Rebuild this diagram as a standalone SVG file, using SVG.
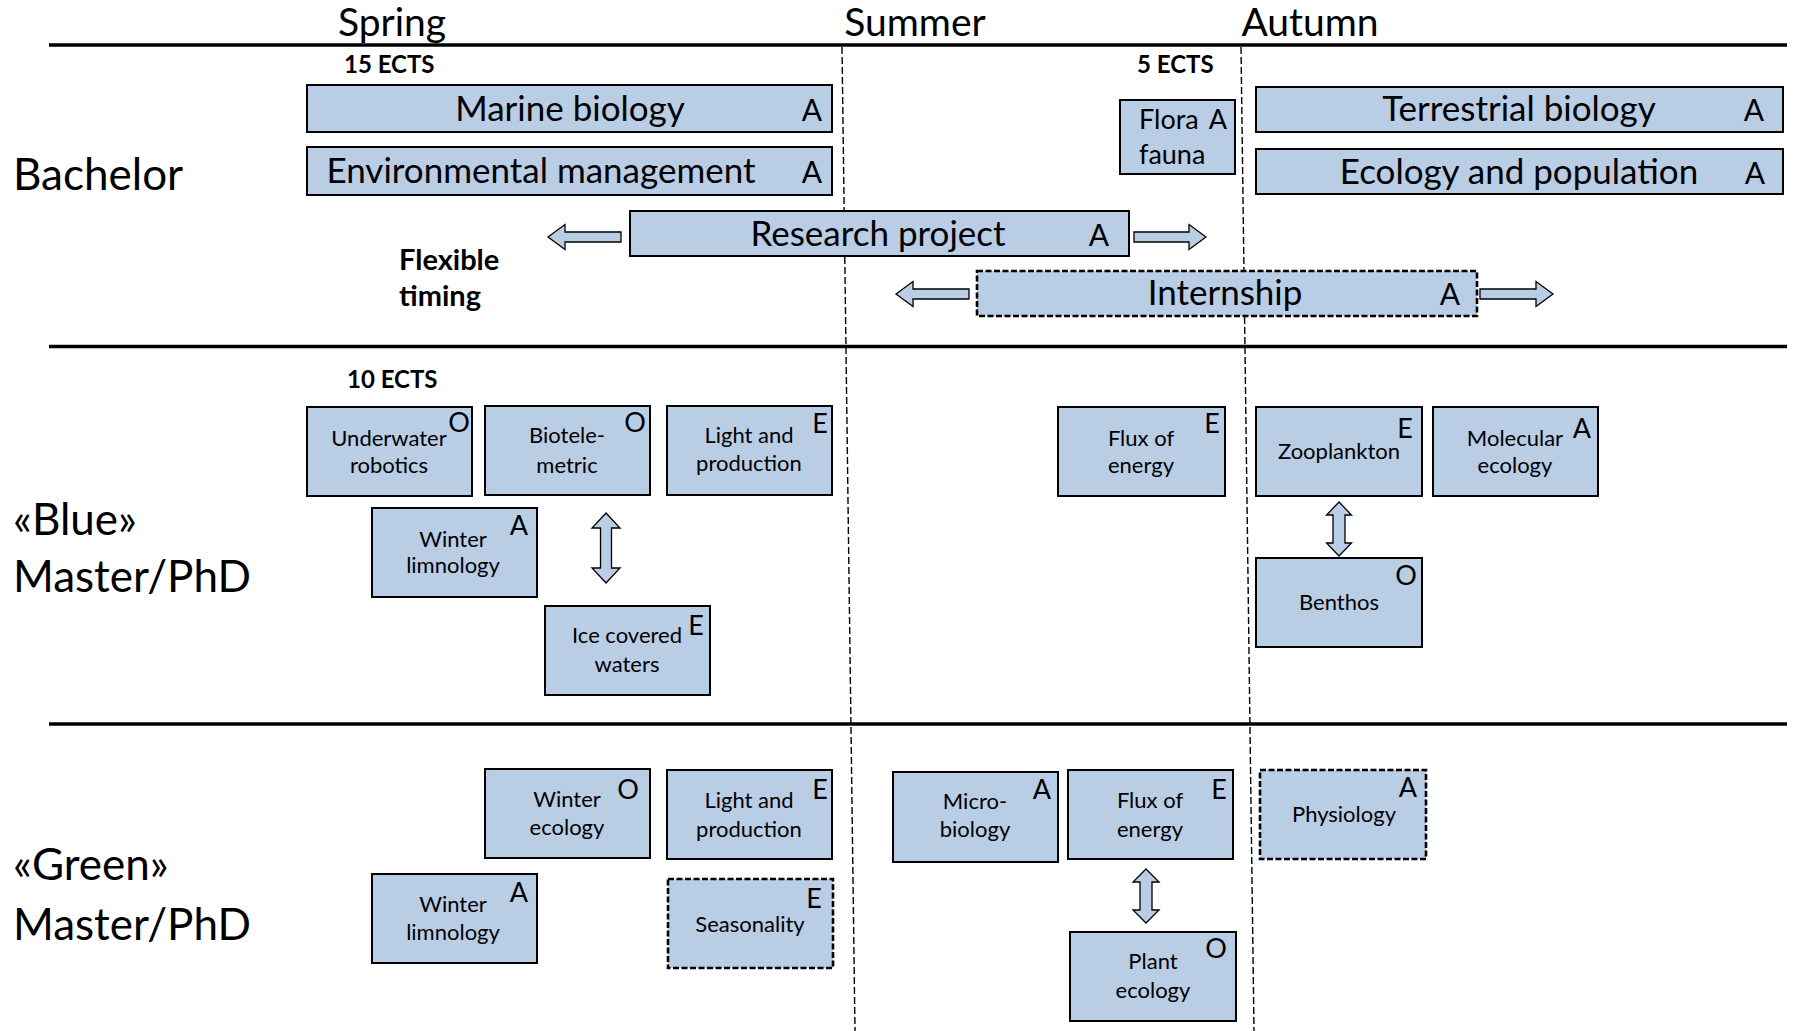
<svg xmlns="http://www.w3.org/2000/svg" width="1797" height="1031" viewBox="0 0 1797 1031">
<style>
.bg{fill:#fff}
.box{fill:#B9CDE5;stroke:#000;stroke-width:2}
.dbox{fill:#B9CDE5;stroke:#000;stroke-width:2.6;stroke-dasharray:6 2.5}
.arr{fill:#B9CDE5;stroke:#000;stroke-width:1.3;stroke-linejoin:miter}
.hl{stroke:#000;stroke-width:3.5}
.vl{stroke:#000;stroke-width:1.4;stroke-dasharray:7 3;fill:none}
text{font-family:Lato,"Open Sans","Liberation Sans",sans-serif;fill:#000}
.hd{font-size:39px;text-anchor:middle}
.lv{font-size:44px}
.big{font-size:35px;text-anchor:middle}
.bl{font-size:30px;text-anchor:middle}
.sm{font-size:22px;text-anchor:middle}
.sl{font-size:27px;text-anchor:middle}
.ec{font-size:24px;font-weight:bold}
.fx{font-size:29px;font-weight:bold}
.ff{font-size:27px}
</style>
<rect class="bg" x="0" y="0" width="1797" height="1031"/>
<g id="grid">
<line class="hl" x1="49" y1="45" x2="1787" y2="45"/>
<line class="hl" x1="49" y1="346.5" x2="1787" y2="346.5"/>
<line class="hl" x1="49" y1="724" x2="1787" y2="724"/>
<line class="vl" x1="842" y1="47" x2="855" y2="1031"/>
<line class="vl" x1="1241" y1="47" x2="1254" y2="1031"/>
</g>
<g id="headers">
<text class="hd" x="392" y="36">Spring</text>
<text class="hd" x="915" y="36">Summer</text>
<text class="hd" x="1310" y="36">Autumn</text>
<text class="lv" x="13" y="190">Bachelor</text>
<text class="lv" x="13" y="535">«Blue»</text>
<text class="lv" x="13" y="592">Master/PhD</text>
<text class="lv" x="13" y="880">«Green»</text>
<text class="lv" x="13" y="940">Master/PhD</text>
<text class="ec" x="344" y="73">15 ECTS</text>
<text class="ec" x="1137" y="73">5 ECTS</text>
<text class="ec" x="347" y="388">10 ECTS</text>
<text class="fx" x="399" y="270">Flexible</text>
<text class="fx" x="399" y="306">timing</text>
</g>
<g id="connectors">
<polygon class="arr" points="548,237 565,224.5 565,232 621,232 621,242 565,242 565,249.5"/>
<polygon class="arr" points="1206,237 1189,224.5 1189,232 1134,232 1134,242 1189,242 1189,249.5"/>
<polygon class="arr" points="896,294 913,281.5 913,289 969,289 969,299 913,299 913,306.5"/>
<polygon class="arr" points="1553,294 1536,281.5 1536,289 1480,289 1480,299 1536,299 1536,306.5"/>
<polygon class="arr" points="606,513 620,528 611.5,528 611.5,568 620,568 606,583 592,568 600.5,568 600.5,528 592,528"/>
<polygon class="arr" points="1339,502 1351.5,515 1345,515 1345,543 1351.5,543 1339,556 1326.5,543 1333,543 1333,515 1326.5,515"/>
<polygon class="arr" points="1146,869 1159,882 1152,882 1152,910 1159,910 1146,923 1133,910 1140,910 1140,882 1133,882"/>
</g>
<g id="marine-biology"><rect class="box" x="307" y="85" width="525" height="47"/><text class="big" x="570" y="121">Marine biology</text><text class="bl" x="812" y="121">A</text></g>
<g id="environmental-management"><rect class="box" x="307" y="147" width="525" height="48"/><text class="big" x="541" y="183">Environmental management</text><text class="bl" x="812" y="183">A</text></g>
<g id="flora-fauna"><rect class="box" x="1120" y="100" width="115" height="74"/><text class="ff" x="1139" y="129">Flora</text><text class="ff" x="1139" y="164">fauna</text><text class="sl" x="1218" y="129">A</text></g>
<g id="terrestrial-biology"><rect class="box" x="1256" y="87" width="527" height="45"/><text class="big" x="1519" y="121">Terrestrial biology</text><text class="bl" x="1754" y="121">A</text></g>
<g id="ecology-population"><rect class="box" x="1256" y="149" width="527" height="45"/><text class="big" x="1519" y="184">Ecology and population</text><text class="bl" x="1755" y="184">A</text></g>
<g id="research-project"><rect class="box" x="630" y="211" width="499" height="45"/><text class="big" x="878" y="246">Research project</text><text class="bl" x="1099" y="246">A</text></g>
<g id="internship"><rect class="dbox" x="977" y="271" width="500" height="45"/><text class="big" x="1225" y="305">Internship</text><text class="bl" x="1450" y="305">A</text></g>

<g id="blue-underwater-robotics"><rect class="box" x="307" y="407" width="165" height="89"/><text class="sm" x="389" y="446">Underwater</text><text class="sm" x="389" y="473">robotics</text><text class="sl" x="459" y="432">O</text></g>
<g id="blue-biotelemetric"><rect class="box" x="485" y="406" width="165" height="89"/><text class="sm" x="567" y="443">Biotele-</text><text class="sm" x="567" y="473">metric</text><text class="sl" x="635" y="432">O</text></g>
<g id="blue-light-production"><rect class="box" x="667" y="406" width="165" height="89"/><text class="sm" x="749" y="443">Light and</text><text class="sm" x="749" y="471">production</text><text class="sl" x="820" y="433">E</text></g>
<g id="blue-winter-limnology"><rect class="box" x="372" y="508" width="165" height="89"/><text class="sm" x="453" y="547">Winter</text><text class="sm" x="453" y="573">limnology</text><text class="sl" x="519" y="535">A</text></g>
<g id="blue-ice-covered"><rect class="box" x="545" y="606" width="165" height="89"/><text class="sm" x="627" y="643">Ice covered</text><text class="sm" x="627" y="672">waters</text><text class="sl" x="696" y="635">E</text></g>
<g id="blue-flux-energy"><rect class="box" x="1058" y="407" width="167" height="89"/><text class="sm" x="1141" y="446">Flux of</text><text class="sm" x="1141" y="473">energy</text><text class="sl" x="1212" y="433">E</text></g>
<g id="blue-zooplankton"><rect class="box" x="1256" y="407" width="166" height="89"/><text class="sm" x="1339" y="459">Zooplankton</text><text class="sl" x="1405" y="438">E</text></g>
<g id="blue-molecular-ecology"><rect class="box" x="1433" y="407" width="165" height="89"/><text class="sm" x="1515" y="446">Molecular</text><text class="sm" x="1515" y="473">ecology</text><text class="sl" x="1582" y="438">A</text></g>
<g id="blue-benthos"><rect class="box" x="1256" y="558" width="166" height="89"/><text class="sm" x="1339" y="610">Benthos</text><text class="sl" x="1406" y="585">O</text></g>

<g id="green-winter-ecology"><rect class="box" x="485" y="769" width="165" height="89"/><text class="sm" x="567" y="807">Winter</text><text class="sm" x="567" y="835">ecology</text><text class="sl" x="628" y="799">O</text></g>
<g id="green-light-production"><rect class="box" x="667" y="770" width="165" height="89"/><text class="sm" x="749" y="808">Light and</text><text class="sm" x="749" y="837">production</text><text class="sl" x="820" y="799">E</text></g>
<g id="green-winter-limnology"><rect class="box" x="372" y="874" width="165" height="89"/><text class="sm" x="453" y="912">Winter</text><text class="sm" x="453" y="940">limnology</text><text class="sl" x="519" y="902">A</text></g>
<g id="green-seasonality"><rect class="dbox" x="668" y="879" width="165" height="89"/><text class="sm" x="750" y="932">Seasonality</text><text class="sl" x="814" y="908">E</text></g>
<g id="green-microbiology"><rect class="box" x="893" y="772" width="165" height="90"/><text class="sm" x="975" y="809">Micro-</text><text class="sm" x="975" y="837">biology</text><text class="sl" x="1042" y="799">A</text></g>
<g id="green-flux-energy"><rect class="box" x="1068" y="770" width="165" height="89"/><text class="sm" x="1150" y="808">Flux of</text><text class="sm" x="1150" y="837">energy</text><text class="sl" x="1219" y="799">E</text></g>
<g id="green-plant-ecology"><rect class="box" x="1070" y="932" width="166" height="89"/><text class="sm" x="1153" y="969">Plant</text><text class="sm" x="1153" y="998">ecology</text><text class="sl" x="1216" y="958">O</text></g>
<g id="green-physiology"><rect class="dbox" x="1260" y="770" width="166" height="89"/><text class="sm" x="1344" y="822">Physiology</text><text class="sl" x="1408" y="797">A</text></g>
</svg>
